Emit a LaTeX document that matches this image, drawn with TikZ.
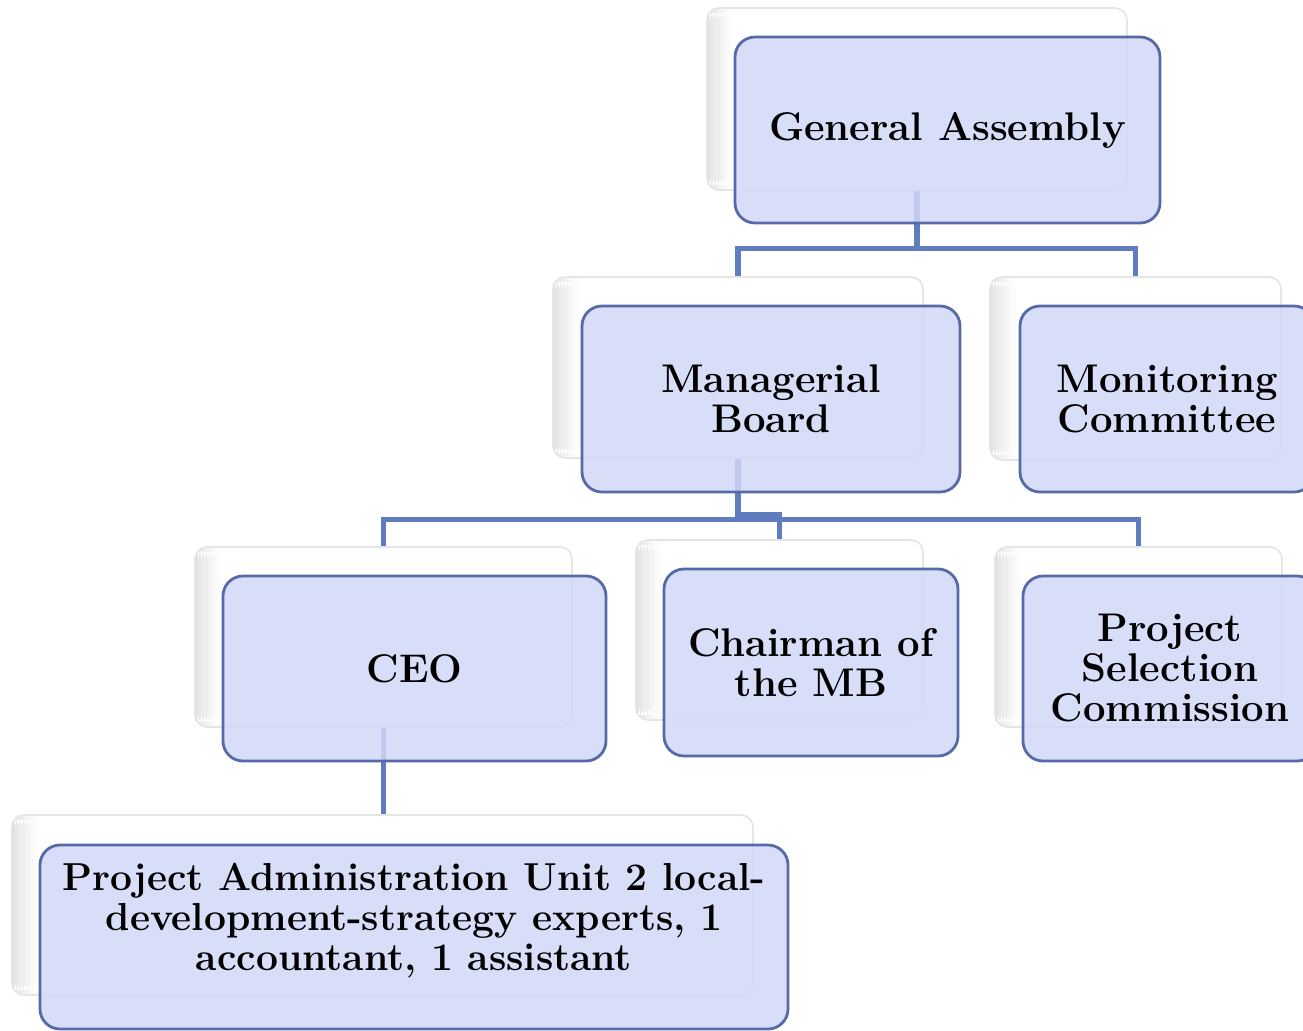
\documentclass[tikz,border=0pt]{standalone}
\usepackage{fontspec}
\usepackage{tikz}
\usetikzlibrary{calc,positioning,shapes}
\definecolor{boxfill}{RGB}{210,216,247}
\definecolor{boxline}{RGB}{86,106,168}
\definecolor{connline}{RGB}{95,125,190}
\tikzset{
  backbox/.style={
    rectangle,
    rounded corners=6pt,
    fill=white,
    draw=gray!20, thick,
    inner sep=0pt,
    path picture={
      \foreach \i/\c in {0/22,1/19,2/16,3/13,4/10,5/7,6/4,7/2}
        \fill[gray!\c] ([xshift=\i*1.6pt]path picture bounding box.south west)
          rectangle ([xshift=\i*1.6pt+1.65pt]path picture bounding box.north west);}},
  frontbox/.style={
    rectangle,
    rounded corners=10pt,
    fill=boxfill, fill opacity=0.85, text opacity=1,
    draw=boxline, line width=1.4pt,
    inner sep=0pt,
    align=center,
    font=\fontsize{20pt}{20pt}\selectfont\bfseries},
  conn/.style={draw=connline, line width=2.6pt, line join=miter},
}

\begin{document}
\begin{tikzpicture}[x=0.5pt, y=-0.5pt]

    \useasboundingbox (0,0) rectangle (1303,1030);

    % back boxes
    \node[backbox, minimum width=210pt, minimum height=91pt]   (ga-b)  at (917,99)     {};
    \node[backbox, minimum width=185pt, minimum height=90.5pt] (mb-b)  at (738,367.5)  {};
    \node[backbox, minimum width=145.5pt, minimum height=91.5pt] (mc-b) at (1135.5,368.5) {};
    \node[backbox, minimum width=188.5pt, minimum height=90pt] (ceo-b) at (383.5,637)  {};
    \node[backbox, minimum width=143.5pt, minimum height=90pt] (ch-b)  at (779.5,630)  {};
    \node[backbox, minimum width=143.5pt, minimum height=90pt] (psc-b) at (1138.5,637) {};
    \node[backbox, minimum width=370.5pt, minimum height=90pt] (pau-b) at (382.5,905)  {};

    % connectors
    \coordinate (bus1) at ($(ga-b.south)+(0,58)$);
    \coordinate (bus2) at ($(mb-b.south)+(0,61)$);
    \coordinate (jog)  at ($(mb-b.south)+(0,56)$);

    \draw[conn] (ga-b.south) -- (bus1);
    \draw[conn] (mb-b.north) |- (bus1) -| (mc-b.north);
    \draw[conn] (mb-b.south) -- (bus2);
    \draw[conn] (ceo-b.north) |- (bus2) -| (psc-b.north);
    \draw[conn] (mb-b.south) -- (jog) -| (ch-b.north);
    \draw[conn] (ceo-b.south) -- (ceo-b.south |- pau-b.north);

    % front boxes
    \node[frontbox, minimum width=212.5pt, minimum height=93pt] (ga)  at (947.5,130) {General Assembly};
    \node[frontbox, minimum width=189pt, minimum height=93pt]   (mb)  at (771,399)   {Managerial\\Board};
    \node[frontbox, minimum width=147pt, minimum height=93pt]   (mc)  at (1167,399)  {Monitoring\\Committee};
    \node[frontbox, minimum width=191.5pt, minimum height=92.5pt] (ceo) at (414.5,668.5) {CEO};
    \node[frontbox, minimum width=147pt, minimum height=93.5pt] (ch)  at (811,662.5) {Chairman of\\the MB};
    \node[frontbox, minimum width=147pt, minimum height=92.5pt] (psc) at (1170,668.5) {Project\\Selection\\Commission};
    \node[frontbox, minimum width=374pt, minimum height=92pt,
          font=\fontsize{19.5pt}{20pt}\selectfont\bfseries] (pau) at (414,937)
        {Project Administration Unit 2 local-\\development-strategy experts, 1\\accountant, 1 assistant\\~};

\end{tikzpicture}
\end{document}
